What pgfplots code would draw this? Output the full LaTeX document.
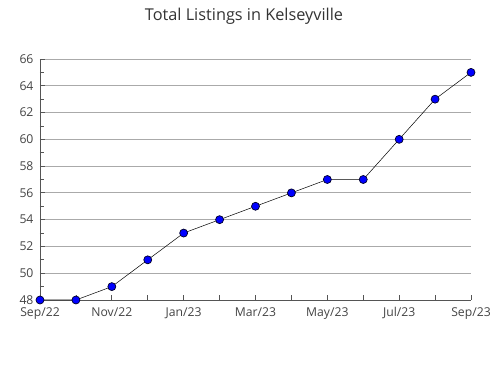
\documentclass[border=0pt]{standalone}
\usepackage{pgfplots}
\pgfplotsset{compat=1.18}
\usepackage{fontspec}
\setmainfont{Open Sans}
\definecolor{axgray}{HTML}{555555}
\definecolor{gridgray}{HTML}{AAAAAA}
\definecolor{txtgray}{HTML}{444444}
\begin{document}
\begin{tikzpicture}
\path[use as bounding box] (0,0) rectangle (490pt,380pt);
\node[font=\fontsize{16.3}{19}\selectfont, text=black!80] at (244pt,364pt) {Total Listings in Kelseyville};
\begin{axis}[
  at={(40pt,80pt)}, anchor=south west,
  scale only axis, width=431pt, height=241pt,
  xmin=0, xmax=12, ymin=48, ymax=66,
  axis x line*=bottom, axis y line*=left,
  axis line style={axgray, line width=0.8pt},
  xtick={0,...,12},
  xticklabels={Sep/22,,Nov/22,,Jan/23,,Mar/23,,May/23,,Jul/23,,Sep/23},
  ytick={48,50,...,66},
  minor y tick num=1,
  ymajorgrids, major grid style={gridgray, line width=0.8pt},
  tick style={axgray, line width=0.8pt},
  xtick align=inside, ytick align=inside,
  major tick length=5pt,
  minor tick length=4pt,
  tick label style={font=\fontsize{12.2}{14}\selectfont, text=txtgray},
  /pgf/number format/assume math mode=true,
  yticklabel style={xshift=-3pt},
  xticklabel style={yshift=-4pt},
  clip=false,
]
\addplot[black, line width=0.5pt, mark=*, mark size=4pt,
  mark options={fill=blue, draw=black!85!blue, line width=0.7pt}]
  coordinates {(0,48) (1,48) (2,49) (3,51) (4,53) (5,54) (6,55) (7,56) (8,57) (9,57) (10,60) (11,63) (12,65)};
\end{axis}
\end{tikzpicture}
\end{document}
